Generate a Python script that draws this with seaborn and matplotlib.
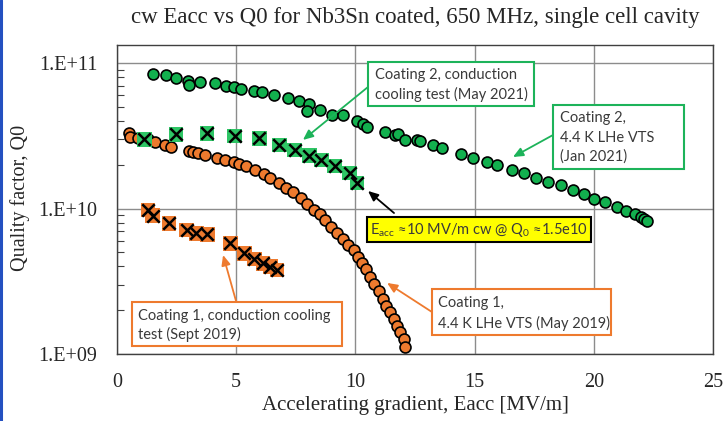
import matplotlib
matplotlib.use("Agg")
import matplotlib.pyplot as plt
from matplotlib.lines import Line2D
from matplotlib.patches import Rectangle
from matplotlib.ticker import FixedLocator, LogLocator, NullFormatter
import pandas as pd
import seaborn as sns

# Coating 2, 4.4 K LHe VTS (Jan 2021): Eacc [MV/m], Q0 [1e10]
c2_vts_eacc = [1.5, 2.04, 2.49, 2.97, 3.03, 3.49, 4.09, 4.57, 4.89, 5.22, 5.76, 6.1,
               6.6, 7.16, 7.62, 8.04, 7.98, 8.5, 9.03, 9.5, 10.08, 10.32, 10.49, 11.26,
               11.65, 11.8, 12.07, 12.59, 12.73, 13.25, 13.64, 14.41, 14.92, 15.5, 15.95,
               16.55, 17.07, 17.58, 18.08, 18.61, 19.13, 19.57, 20.01, 20.49, 20.97, 21.34,
               21.72, 21.97, 22.1, 22.23]
c2_vts_q0 = [8.39, 8.22, 7.89, 7.48, 7.06, 7.40, 7.24, 6.98, 6.87, 6.59, 6.43, 6.30,
             6.03, 5.78, 5.51, 5.20, 4.68, 4.75, 4.40, 4.40, 4.01, 3.81, 3.65, 3.37,
             3.20, 3.25, 2.96, 2.96, 2.92, 2.73, 2.59, 2.37, 2.21, 2.09, 1.98,
             1.84, 1.75, 1.63, 1.53, 1.45, 1.34, 1.26, 1.17, 1.11, 1.03, 0.966,
             0.916, 0.869, 0.85, 0.824]

# Coating 2, conduction cooling test (May 2021)
c2_cc_eacc = [1.15, 2.48, 3.77, 4.94, 5.97, 6.81, 7.45, 8.07, 8.57, 9.13, 9.76, 10.07]
c2_cc_q0 = [2.99, 3.24, 3.29, 3.16, 3.03, 2.73, 2.52, 2.31, 2.15, 1.96, 1.75, 1.50]

# Coating 1, 4.4 K LHe VTS (May 2019)
c1_vts_eacc = [0.5, 0.55, 0.9, 1.3, 1.6, 2.0, 2.25, 3.0, 3.2, 3.38, 3.7, 4.18, 4.54,
               4.89, 5.1, 5.4, 5.8, 6.15, 6.43, 6.78, 7.1, 7.4, 7.7, 7.97, 8.25, 8.5,
               8.74, 8.98, 9.23, 9.48, 9.68, 9.93, 10.1, 10.28, 10.45, 10.63, 10.8,
               10.98, 11.15, 11.3, 11.45, 11.6, 11.75, 11.89, 12.03, 12.1]
c1_vts_q0 = [3.32, 3.10, 3.07, 2.99, 2.86, 2.73, 2.66, 2.48, 2.44, 2.42, 2.35, 2.23, 2.15,
             2.09, 2.02, 1.95, 1.84, 1.74, 1.63, 1.50, 1.39, 1.29, 1.18, 1.07, 0.984, 0.910,
             0.834, 0.752, 0.676, 0.614, 0.561, 0.519, 0.467, 0.420, 0.381, 0.338, 0.303,
             0.269, 0.239, 0.215, 0.195, 0.175, 0.157, 0.141, 0.126, 0.111]

# Coating 1, conduction cooling test (Sept 2019)
c1_cc_eacc = [1.3, 1.5, 2.18, 2.92, 3.33, 3.79, 4.75, 5.34, 5.76, 6.12, 6.43, 6.71]
c1_cc_q0 = [0.977, 0.893, 0.791, 0.711, 0.676, 0.665, 0.577, 0.492, 0.450, 0.420, 0.398, 0.378]

x_ticks = [0, 5, 10, 15, 20, 25]
y_ticks = [1e9, 1e10, 1e11]
y_tick_labels = ["1.E+09", "1.E+10", "1.E+11"]

GREEN = "#12B04E"
GREEN_SQ = "#2EC565"
ORANGE = "#EE7A2E"
BOX_GREEN = "#1DB35A"
SERIF = ["Liberation Serif", "DejaVu Serif"]
SANS = ["Lato", "DejaVu Sans"]


def frame(e, q):
    return pd.DataFrame({"Eacc": e, "Q0": [v * 1e10 for v in q]})


sns.set_theme(style="white")
plt.rcParams["font.family"] = SERIF
plt.rcParams["mathtext.fontset"] = "custom"
plt.rcParams["mathtext.rm"] = "Lato"
plt.rcParams["mathtext.it"] = "Lato:italic"

fig = plt.figure(figsize=(7.24, 4.21), dpi=100)
ax = fig.add_axes([0.1616, 0.1591, 0.8232, 0.7340])
ax.set_yscale("log")

circle_kw = dict(marker="o", s=62, edgecolor="black", linewidth=1.2, zorder=3, legend=False)
sns.scatterplot(data=frame(c2_vts_eacc, c2_vts_q0), x="Eacc", y="Q0", color=GREEN, ax=ax, **circle_kw)
sns.scatterplot(data=frame(c1_vts_eacc, c1_vts_q0), x="Eacc", y="Q0", color=ORANGE, ax=ax, **circle_kw)

for e, q, fill in [(c2_cc_eacc, c2_cc_q0, GREEN_SQ), (c1_cc_eacc, c1_cc_q0, ORANGE)]:
    df = frame(e, q)
    sns.scatterplot(data=df, x="Eacc", y="Q0", marker="s", s=110, color=fill,
                    edgecolor="none", linewidth=0, zorder=3, ax=ax, legend=False)
    sns.scatterplot(data=df, x="Eacc", y="Q0", marker="x", s=80, color="black",
                    linewidth=1.8, zorder=4, ax=ax, legend=False)

ax.set_xlim(0, 25)
ax.set_ylim(1e9, 1.33e11)
ax.xaxis.set_major_locator(FixedLocator(x_ticks))
ax.set_xticklabels([str(t) for t in x_ticks])
ax.yaxis.set_major_locator(FixedLocator(y_ticks))
ax.set_yticklabels(y_tick_labels)
ax.yaxis.set_minor_locator(LogLocator(base=10, subs=range(2, 10)))
ax.yaxis.set_minor_formatter(NullFormatter())
ax.tick_params(axis="x", length=0, pad=14, labelsize=14.5)
ax.tick_params(axis="y", which="major", direction="in", length=5, pad=14, labelsize=14.5, color="#404040")
ax.tick_params(axis="y", which="minor", direction="in", length=5, width=0.8, color="#404040", left=True)

ax.grid(True, which="major", color="#8C8C8C", linewidth=1.0)
ax.set_axisbelow(True)
for sp in ax.spines.values():
    sp.set_color("#404040")
    sp.set_linewidth(1.0)

ax.set_xlabel("Accelerating gradient, Eacc [MV/m]", fontsize=15)
ax.xaxis.set_label_coords(0.5, -0.168)
ax.xaxis.label.set_va("center")
ax.set_ylabel("Quality factor, Q0", fontsize=14.5)
ax.yaxis.set_label_coords(-0.163, 0.505)
ax.yaxis.label.set_va("center")

fig.text(0.573, 1 - 17 / 421, "cw Eacc vs Q0 for Nb3Sn coated, 650 MHz, single cell cavity",
         ha="center", va="center", fontsize=16.5, family=SERIF)


def callout(lines, box, text_x, line_ys, edge, start, tip, face="white", ha="left"):
    """Boxed note (axes fraction) with an arrow pointing at a data location."""
    x0, y0, x1, y1 = box
    ax.add_patch(Rectangle((x0, y0), x1 - x0, y1 - y0, transform=ax.transAxes,
                           facecolor=face, edgecolor=edge, linewidth=1.5, zorder=6))
    for line, ly in zip(lines, line_ys):
        ax.text(text_x, ly, line, transform=ax.transAxes, ha=ha, va="center",
                fontsize=10.5, family=SANS, color="#3A3A3A", zorder=7)
    ax.annotate("", xy=tip, xycoords="data", xytext=start, textcoords="axes fraction",
                arrowprops=dict(arrowstyle="-|>,head_length=0.5,head_width=0.22", color=edge,
                                linewidth=1.3, shrinkA=0, shrinkB=0), zorder=6)


callout(["Coating 2, conduction", "cooling test (May 2021)"],
        (0.4211, 0.8026, 0.6997, 0.945), 0.4329, [0.9029, 0.8414],
        BOX_GREEN, (0.4211, 0.8641), (7.80, 2.96e10))
callout(["Coating 2,", "4.4 K LHe VTS", "(Jan 2021)"],
        (0.7315, 0.5987, 0.9513, 0.8058), 0.7433, [0.7638, 0.6990, 0.6375],
        BOX_GREEN, (0.7315, 0.7087), (16.61, 2.26e10))
callout([r"E$_{\rm acc}$ ≈10 MV/m cw @ Q$_{\rm 0}$ ≈1.5e10"],
        (0.4195, 0.3625, 0.7953, 0.4434), 0.6074, [0.4029],
        "black", (0.4648, 0.4563), (10.53, 1.32e10), face="#FFFF00", ha="center")
callout(["Coating 1,", "4.4 K LHe VTS (May 2019)"],
        (0.5285, 0.0615, 0.8289, 0.2104), 0.5386, [0.1650, 0.1003],
        ORANGE, (0.5285, 0.1359), (11.33, 3.08e9))
callout(["Coating 1, conduction cooling", "test (Sept 2019)"],
        (0.0252, 0.0259, 0.3775, 0.1683), 0.0352, [0.1230, 0.0647],
        ORANGE, (0.1997, 0.1715), (4.45, 4.79e9))

fig.add_artist(Line2D([0.002, 0.002], [0, 1], transform=fig.transFigure,
                      color="#2450C0", linewidth=2.2))

fig.savefig("out.png", dpi=100)
